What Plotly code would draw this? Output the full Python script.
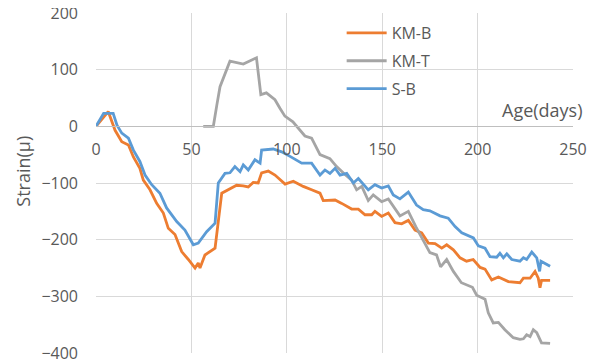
import plotly.graph_objects as go

# ---- data ----
kmb_x = [0, 6.4, 10, 13.5, 17, 19.6, 23, 24.8, 28.3, 31.8, 35.3, 37.9, 41.4, 44.9, 48.4, 51.9, 53.6, 54.5,
         57.1, 59.7, 62.4, 65.9, 69.3, 73.7, 77.2, 79.8, 82.4, 85, 86.8, 90.3, 93.8, 99.1, 103.4, 108.6,
         113, 117.4, 119.1, 125.3, 128.8, 134, 137.5, 141, 144.5, 146.2, 149.7, 153.2, 156.7, 160.2,
         163.7, 167.2, 170.7, 174.2, 177.7, 181.2, 183.8, 187.3, 190.8, 194.2, 197.7, 201.3, 203.9,
         207.4, 210.9, 216.1, 222.2, 224, 227.5, 230.1, 231.8, 232.7, 233.5, 238]
kmb_y = [0, 26, -7, -27, -33, -54, -74, -95, -112, -136, -153, -180, -191, -221, -235, -250, -241, -250,
         -227, -221, -215, -118, -112, -104, -105, -107, -99, -100, -82, -79, -86, -102, -97, -106,
         -112, -118, -131, -130, -136, -146, -146, -156, -156, -150, -159, -153, -170, -172,
         -166, -183, -188, -206, -207, -215, -209, -218, -232, -238, -235, -249, -252,
         -271, -266, -274, -276, -268, -268, -256, -268, -285, -272, -272]

kmt_x = [56.2, 61.5, 63.3, 65, 70.2, 77.2, 84.1, 86.4, 89.3, 93.8, 96.4, 99, 103.2, 106.9, 109.5, 113,
         117.4, 122.6, 126.1, 130.5, 134, 136.6, 139.3, 142.7, 145.3, 149.7, 153.2, 159.3, 163.7,
         167.6, 171.5, 175, 178.5, 180.6, 183.8, 187.3, 191.5, 197.3, 199.5, 203.9, 205.6, 208.2,
         210.9, 214.3, 218.7, 222.2, 224, 225.7, 227.5, 229.2, 231, 233.5, 238]
kmt_y = [0, 0, 37, 70, 115, 110, 121, 56, 59, 47, 32, 18, 8, -6, -17, -21,
         -50, -57, -71, -85, -95, -112, -106, -131, -121, -133, -128, -158, -150,
         -177, -200, -223, -227, -248, -235, -256, -276, -284, -298, -305, -329, -347,
         -346, -359, -373, -376, -375, -368, -371, -359, -364, -382, -383]

sb_x = [0, 4, 9, 11, 13.5, 17, 19.6, 23, 25.7, 29.2, 33.5, 37, 42.3, 46.6, 51, 53.6, 58, 62.4, 64.1,
        67.6, 70.2, 72.8, 75.5, 77.2, 79.8, 83.3, 86, 86.8, 92.9, 97.3, 101.7, 107.8, 113, 117.4, 120,
        122.6, 125.3, 127.9, 131.4, 134.9, 137.5, 142.7, 146.2, 149.7, 153.2, 155.8, 159.3, 163.7,
        168, 171.5, 175, 180.3, 184.6, 188.2, 191.7, 195.2, 197.8, 200.4, 203.9, 206.5, 210, 211.7,
        213.5, 215.3, 217.9, 222.2, 224, 225.7, 228.4, 231, 232.5, 233.2, 238]
sb_y = [0, 23, 23, 2, -12, -21, -42, -62, -86, -103, -118, -144, -168, -183, -209, -206, -186, -171, -100,
        -83, -82, -71, -80, -68, -77, -59, -65, -42, -40, -45, -53, -65, -65, -86, -77,
        -83, -74, -86, -83, -100, -92, -112, -103, -109, -105, -121, -128, -116,
        -139, -147, -149, -158, -162, -177, -188, -193, -197, -211, -215, -230, -231, -224,
        -232, -225, -235, -238, -232, -235, -222, -232, -256, -238, -247]

series_names = ["KM-B", "KM-T", "S-B"]
series_colors = ["#ED7D31", "#A5A5A5", "#5B9BD5"]
x_ticks = [0, 50, 100, 150, 200, 250]
y_ticks = [-400, -300, -200, -100, 0, 100, 200]

FONT = "Open Sans, Liberation Sans, sans-serif"
TXT = "#595959"

fig = go.Figure()
for i, (xs, ys) in enumerate([(kmb_x, kmb_y), (kmt_x, kmt_y), (sb_x, sb_y)]):
    fig.add_trace(go.Scatter(x=xs, y=ys, mode="lines", name=series_names[i],
                             legendgroup=series_names[i],
                             line=dict(color=series_colors[i], width=2.8)))

# page body has an 8px margin, so the figure is 8px smaller and margins shifted
fig.update_layout(
    width=590, height=352,
    margin=dict(l=88, r=25, t=5, b=7, autoexpand=False),
    paper_bgcolor="white", plot_bgcolor="white",
    font=dict(family=FONT, size=16, color=TXT),
    showlegend=True,
    legend=dict(x=0.515, y=0.991, xanchor="left", yanchor="top",
                bgcolor="rgba(0,0,0,0)", font=dict(size=16, color=TXT),
                traceorder="grouped", tracegroupgap=4, itemwidth=40),
    xaxis=dict(range=[0, 250], tickvals=x_ticks, showgrid=True, gridcolor="#D9D9D9",
               gridwidth=1, zeroline=False, showline=True, linecolor="#BFBFBF", linewidth=1,
               anchor="free", position=2/3, ticks="", ticklabelstandoff=8, automargin=False,
               ticklabeloverflow="allow", tickfont=dict(size=16, color=TXT)),
    yaxis=dict(range=[-400, 200], tickvals=y_ticks, showgrid=True, gridcolor="#D9D9D9",
               gridwidth=1, zeroline=False, showline=False, ticks="", automargin=False,
               ticklabeloverflow="allow",
               ticklabelstandoff=17, tickfont=dict(size=16, color=TXT)),
    annotations=[
        dict(text="Age(days)", xref="paper", yref="y", x=(585 - 96) / 477, y=28.7,
             xanchor="right", yanchor="middle", showarrow=False,
             font=dict(size=18, color=TXT)),
        dict(text="Strain(μ)", xref="paper", yref="y", x=(23 - 96) / 477, y=-80,
             xanchor="center", yanchor="middle", textangle=-90, showarrow=False,
             font=dict(size=18, color=TXT)),
    ],
)

fig.write_html("out.html")
